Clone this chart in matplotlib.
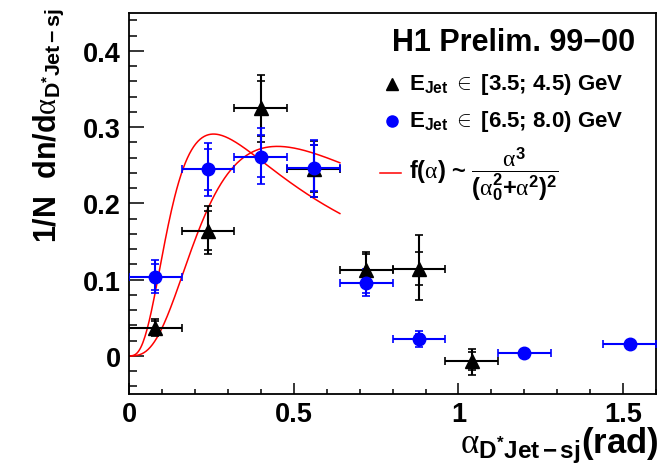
import numpy as np
import matplotlib
matplotlib.use("Agg")
import matplotlib.pyplot as plt
from matplotlib.ticker import MultipleLocator, FuncFormatter

plt.rcParams['font.family'] = ['Liberation Sans', 'DejaVu Sans']
plt.rcParams['font.weight'] = 'bold'
plt.rcParams['mathtext.fontset'] = 'custom'
plt.rcParams['mathtext.rm'] = 'Liberation Serif:weight=normal'
plt.rcParams['mathtext.it'] = 'Liberation Serif:style=italic:weight=normal'
plt.rcParams['mathtext.bf'] = 'Liberation Sans:weight=bold'

# bin centres, half width 0.08 rad
x_low = [0.08, 0.24, 0.40, 0.56, 0.72, 0.88, 1.04]
y_low = [0.036, 0.164, 0.325, 0.245, 0.112, 0.114, -0.007]
tot_up_low = [0.012, 0.032, 0.044, 0.037, 0.024, 0.044, 0.016]
tot_dn_low = [0.010, 0.030, 0.044, 0.037, 0.022, 0.041, 0.018]
stat_up_low = [0.010, 0.026, 0.036, 0.031, 0.022, 0.022, 0.012]
stat_dn_low = [0.008, 0.025, 0.036, 0.030, 0.018, 0.021, 0.012]

x_high = [0.08, 0.24, 0.40, 0.56, 0.72, 0.88, 1.20, 1.52]
y_high = [0.104, 0.245, 0.261, 0.247, 0.096, 0.022, 0.004, 0.016]
tot_up_high = [0.022, 0.034, 0.038, 0.036, 0.018, 0.010, 0.004, 0.004]
tot_dn_high = [0.021, 0.035, 0.035, 0.039, 0.017, 0.010, 0.004, 0.004]
stat_up_high = [0.017, 0.027, 0.029, 0.030, 0.014, 0.007, 0.003, 0.003]
stat_dn_high = [0.018, 0.027, 0.027, 0.031, 0.014, 0.007, 0.003, 0.003]
half_width = 0.08

# fit parameters of f(a) = N a^3 / (a0^2 + a^2)^2
fit_a0 = [0.148, 0.26]
fit_norm = [0.1326, 0.220]
fit_range = (0.0, 0.64)

fig = plt.figure(figsize=(6.62, 4.77), dpi=100)
ax = fig.add_axes([0.195, 0.172, 0.796, 0.799])

a = np.linspace(fit_range[0], fit_range[1], 200)
for a0, n in zip(fit_a0, fit_norm):
    ax.plot(a, n * a**3 / (a0**2 + a**2)**2, color='red', lw=1.1, zorder=2)

def draw(x, y, tu, td, su, sd, color, marker, ms):
    ax.errorbar(x, y, xerr=half_width, yerr=[td, tu], fmt=marker, color=color,
                ms=ms, elinewidth=1.5, capsize=3, capthick=1.2, zorder=3)
    ax.errorbar(x, y, yerr=[sd, su], fmt='none', ecolor=color,
                elinewidth=0, capsize=3, capthick=1.2, zorder=3)

draw(x_low, y_low, tot_up_low, tot_dn_low, stat_up_low, stat_dn_low, 'black', '^', 10)
draw(x_high, y_high, tot_up_high, tot_dn_high, stat_up_high, stat_dn_high, 'blue', 'o', 9)

ax.set_xlim(0, 1.6)
ax.set_ylim(-0.05, 0.45)
ax.xaxis.set_major_locator(MultipleLocator(0.5))
ax.xaxis.set_minor_locator(MultipleLocator(0.1))
ax.yaxis.set_major_locator(MultipleLocator(0.1))
ax.yaxis.set_minor_locator(MultipleLocator(0.02))
fmt = FuncFormatter(lambda v, p: f'{v:.2g}' if abs(v) > 1e-9 else '0')
ax.xaxis.set_major_formatter(fmt)
ax.yaxis.set_major_formatter(fmt)
ax.tick_params(which='both', direction='in', top=False, right=False, labelsize=19.5, width=1.1)
ax.tick_params(axis='y', which='major', length=11, pad=6)
ax.tick_params(axis='y', which='minor', length=5.5)
ax.tick_params(axis='x', which='major', length=8, pad=5)
ax.tick_params(axis='x', which='minor', length=3.5)
for s in ax.spines.values():
    s.set_linewidth(1.3)

ax.set_xlabel(r'$\mathrm{\alpha}_{\mathbf{D^{*}Jet-sj}}$(rad)', fontsize=25,
              fontweight='bold', loc='right')
ax.xaxis.set_label_coords(1.005, -0.08)
ax.set_ylabel(r'1/N  dn/d$\mathrm{\alpha}_{\mathbf{D^{*}Jet-sj}}$', fontsize=22,
              fontweight='bold', loc='top')
ax.yaxis.set_label_coords(-0.12, 1.016)

# legend block
ax.text(0.729, 0.924, 'H1 Prelim. 99\u221200', transform=ax.transAxes,
        ha='center', va='center', fontsize=22)
ax.plot([0.499], [0.814], '^', color='black', ms=9, transform=ax.transAxes)
ax.plot([0.499], [0.717], 'o', color='blue', ms=8, transform=ax.transAxes)
ax.plot([0.476, 0.516], [0.580, 0.580], color='red', lw=1.1, transform=ax.transAxes)
ax.text(0.531, 0.814, r'E$_{\mathbf{Jet}}$ $\in$ [3.5; 4.5) GeV', transform=ax.transAxes,
        ha='left', va='center', fontsize=16)
ax.text(0.531, 0.717, r'E$_{\mathbf{Jet}}$ $\in$ [6.5; 8.0) GeV', transform=ax.transAxes,
        ha='left', va='center', fontsize=16)
ax.text(0.531, 0.580,
        r'f($\mathrm{\alpha}$) ~ $\dfrac{\mathrm{\alpha}^{\mathbf{3}}}{\mathbf{(}\mathrm{\alpha}_{\mathbf{0}}^{\mathbf{2}}\mathbf{+}\mathrm{\alpha}^{\mathbf{2}}\mathbf{)}^{\mathbf{2}}}$',
        transform=ax.transAxes, ha='left', va='center', fontsize=17)

fig.savefig('out.png', dpi=100)
